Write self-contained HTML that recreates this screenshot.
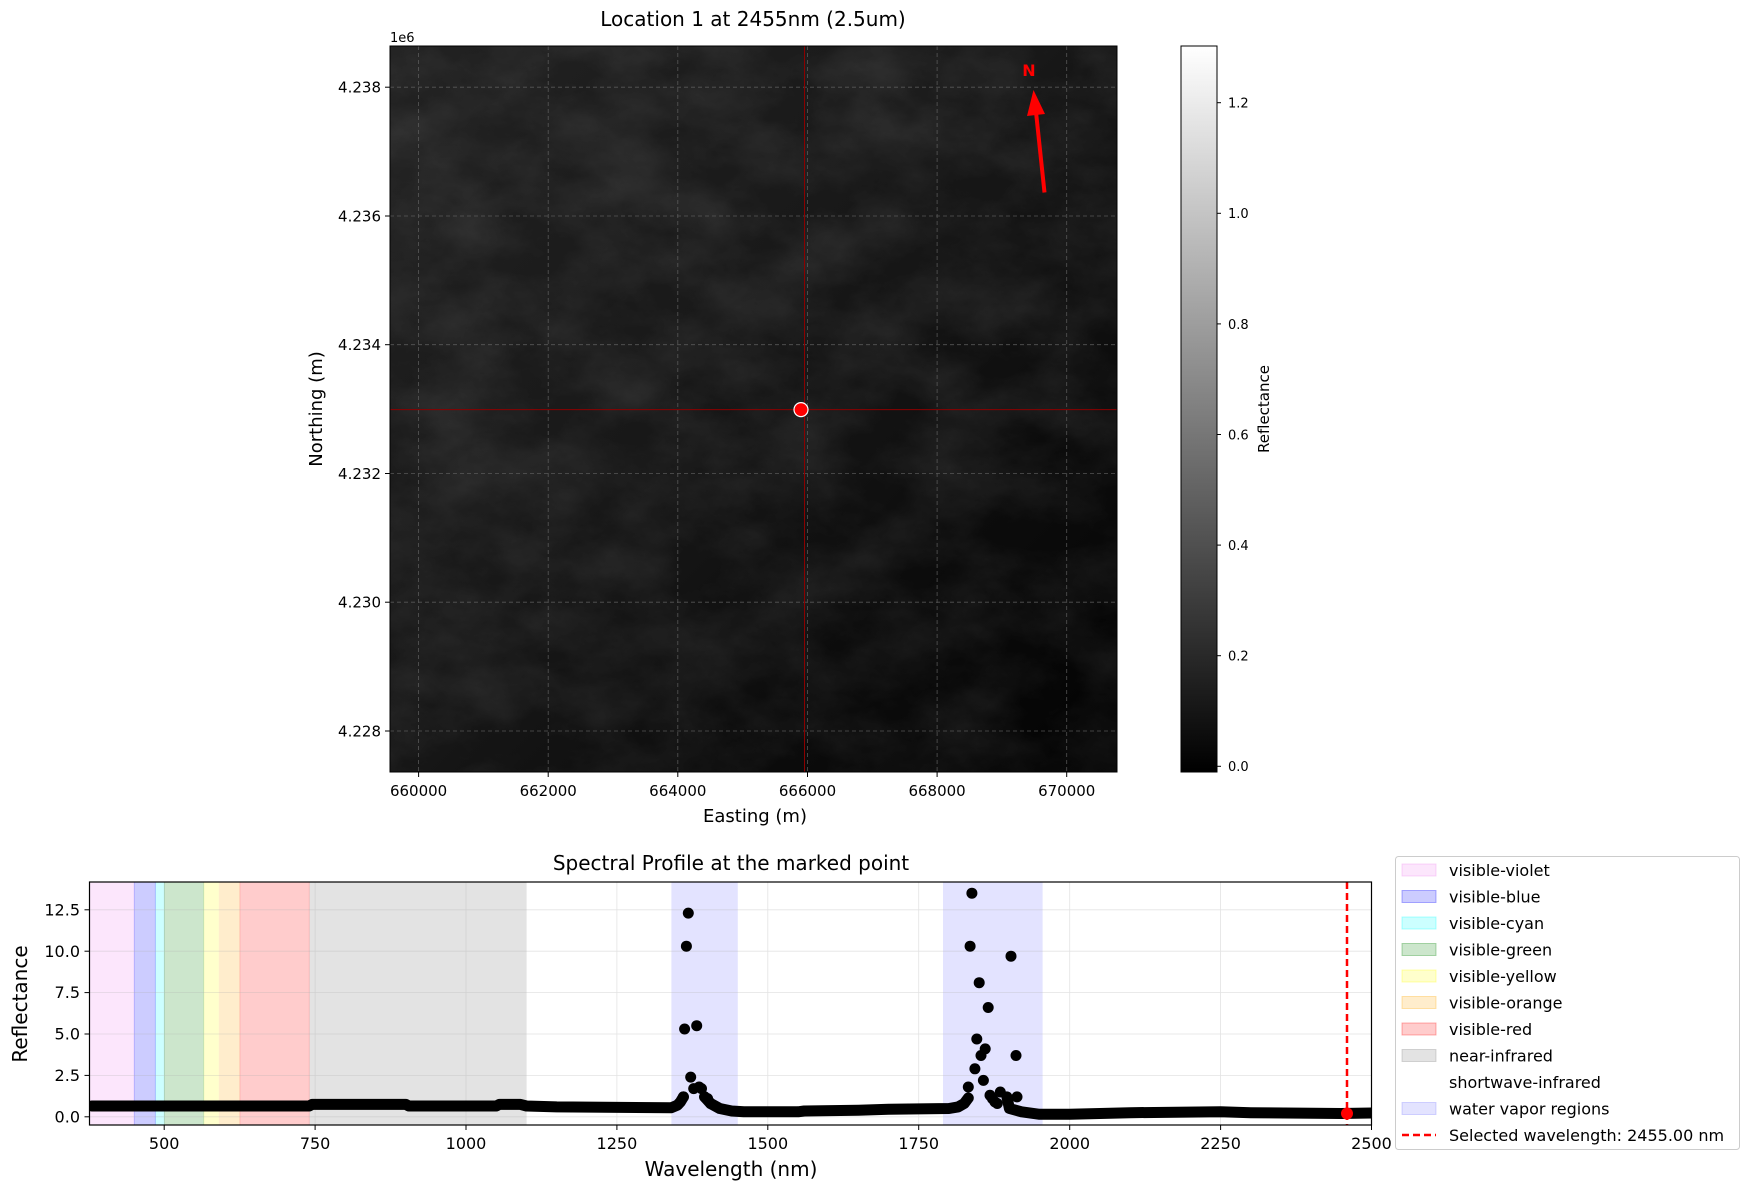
<!DOCTYPE html>
<html><head><meta charset="utf-8"><style>
html,body{margin:0;padding:0;background:#fff}
svg{display:block;font-family:"DejaVu Sans","Liberation Sans",sans-serif}
</style></head><body>
<svg width="1750" height="1189" viewBox="0 0 1750 1189" xmlns="http://www.w3.org/2000/svg">
<defs>
<linearGradient id="bg" x1="0" y1="0" x2="1" y2="1">
<stop offset="0" stop-color="#252525"/><stop offset="0.45" stop-color="#1b1b1b"/><stop offset="0.75" stop-color="#0d0d0d"/><stop offset="1" stop-color="#030303"/>
</linearGradient>
<linearGradient id="cb" x1="0" y1="1" x2="0" y2="0">
<stop offset="0" stop-color="#000"/><stop offset="1" stop-color="#fff"/>
</linearGradient>
<filter id="turb" x="0" y="0" width="100%" height="100%" color-interpolation-filters="sRGB">
<feTurbulence type="fractalNoise" baseFrequency="0.012 0.018" numOctaves="6" seed="7"/>
<feColorMatrix type="matrix" values="1.6 0 0 0 -0.5  1.6 0 0 0 -0.5  1.6 0 0 0 -0.5  0 0 0 0 1"/>
</filter>
<clipPath id="ax1"><rect x="390" y="46" width="727" height="726"/></clipPath>
<clipPath id="ax2"><rect x="89.5" y="882" width="1282" height="243"/></clipPath>
</defs>

<!-- ===== top image ===== -->
<text x="753" y="26" font-size="20" text-anchor="middle">Location 1 at 2455nm (2.5um)</text>
<g clip-path="url(#ax1)">
<rect x="390" y="46" width="727" height="726" fill="url(#bg)"/>
<rect x="390" y="46" width="727" height="726" filter="url(#turb)" opacity="0.08"/>
<g stroke="#666" stroke-width="0.8" stroke-dasharray="4,3" opacity="0.8">
<line x1="418.6" y1="46" x2="418.6" y2="772"/><line x1="548.2" y1="46" x2="548.2" y2="772"/>
<line x1="677.8" y1="46" x2="677.8" y2="772"/><line x1="807.5" y1="46" x2="807.5" y2="772"/>
<line x1="937.1" y1="46" x2="937.1" y2="772"/><line x1="1066.7" y1="46" x2="1066.7" y2="772"/>
<line x1="390" y1="87.2" x2="1117" y2="87.2"/><line x1="390" y1="216" x2="1117" y2="216"/>
<line x1="390" y1="344.7" x2="1117" y2="344.7"/><line x1="390" y1="473.5" x2="1117" y2="473.5"/>
<line x1="390" y1="602.2" x2="1117" y2="602.2"/><line x1="390" y1="731" x2="1117" y2="731"/>
</g>
<line x1="804.5" y1="46" x2="804.5" y2="772" stroke="#8b0000" stroke-width="1"/>
<line x1="390" y1="409.6" x2="1117" y2="409.6" stroke="#8b0000" stroke-width="1"/>
<circle cx="801" cy="409.6" r="7" fill="#f00" stroke="#fff" stroke-width="1.2"/>
<line x1="1044.5" y1="192.5" x2="1036" y2="112" stroke="#f00" stroke-width="4"/>
<polygon points="1033.5,90 1027,116 1045,114" fill="#f00"/>
<text x="1029" y="76" font-size="16" font-weight="bold" fill="#f00" text-anchor="middle">N</text>
</g>
<rect x="390" y="46" width="727" height="726" fill="none" stroke="#000" stroke-width="1"/>
<text x="390" y="42" font-size="13">1e6</text>
<g stroke="#000" stroke-width="1">
<line x1="418.6" y1="772" x2="418.6" y2="777"/><line x1="548.2" y1="772" x2="548.2" y2="777"/>
<line x1="677.8" y1="772" x2="677.8" y2="777"/><line x1="807.5" y1="772" x2="807.5" y2="777"/>
<line x1="937.1" y1="772" x2="937.1" y2="777"/><line x1="1066.7" y1="772" x2="1066.7" y2="777"/>
<line x1="385" y1="87.2" x2="390" y2="87.2"/><line x1="385" y1="216" x2="390" y2="216"/>
<line x1="385" y1="344.7" x2="390" y2="344.7"/><line x1="385" y1="473.5" x2="390" y2="473.5"/>
<line x1="385" y1="602.2" x2="390" y2="602.2"/><line x1="385" y1="731" x2="390" y2="731"/>
</g>
<g font-size="15" text-anchor="middle">
<text x="418.6" y="796">660000</text><text x="548.2" y="796">662000</text><text x="677.8" y="796">664000</text>
<text x="807.5" y="796">666000</text><text x="937.1" y="796">668000</text><text x="1066.7" y="796">670000</text>
</g>
<g font-size="15" text-anchor="end">
<text x="381" y="92.5">4.238</text><text x="381" y="221.3">4.236</text><text x="381" y="350">4.234</text>
<text x="381" y="478.8">4.232</text><text x="381" y="607.5">4.230</text><text x="381" y="736.3">4.228</text>
</g>
<text x="755" y="822" font-size="18" text-anchor="middle">Easting (m)</text>
<text transform="translate(322,409) rotate(-90)" font-size="18" text-anchor="middle">Northing (m)</text>

<!-- colorbar -->
<rect x="1181" y="46" width="36" height="726" fill="url(#cb)" stroke="#000" stroke-width="1"/>
<g stroke="#000" stroke-width="1">
<line x1="1217" y1="766.3" x2="1221" y2="766.3"/><line x1="1217" y1="655.7" x2="1221" y2="655.7"/>
<line x1="1217" y1="545.1" x2="1221" y2="545.1"/><line x1="1217" y1="434.5" x2="1221" y2="434.5"/>
<line x1="1217" y1="323.9" x2="1221" y2="323.9"/><line x1="1217" y1="213.3" x2="1221" y2="213.3"/>
<line x1="1217" y1="102.7" x2="1221" y2="102.7"/>
</g>
<g font-size="13">
<text x="1228" y="771">0.0</text><text x="1228" y="660.5">0.2</text><text x="1228" y="550">0.4</text>
<text x="1228" y="439.5">0.6</text><text x="1228" y="329">0.8</text><text x="1228" y="218">1.0</text><text x="1228" y="107.5">1.2</text>
</g>
<text transform="translate(1269,409) rotate(-90)" font-size="15" text-anchor="middle">Reflectance</text>

<!-- ===== bottom spectral plot ===== -->
<text x="731" y="870" font-size="20" text-anchor="middle">Spectral Profile at the marked point</text>
<g clip-path="url(#ax2)">
<rect x="89.5" y="882" width="44.8" height="243" fill="#ee82ee" fill-opacity="0.2"/>
<rect x="134.3" y="882" width="21.1" height="243" fill="#0000ff" fill-opacity="0.2" stroke="#0000ff" stroke-opacity="0.2"/>
<rect x="155.4" y="882" width="9.1" height="243" fill="#00ffff" fill-opacity="0.2"/>
<rect x="164.5" y="882" width="39.2" height="243" fill="#008000" fill-opacity="0.2" stroke="#008000" stroke-opacity="0.15"/>
<rect x="203.7" y="882" width="15.1" height="243" fill="#ffff00" fill-opacity="0.2"/>
<rect x="218.8" y="882" width="21.1" height="243" fill="#ffa500" fill-opacity="0.2"/>
<rect x="239.9" y="882" width="69.4" height="243" fill="#ff0000" fill-opacity="0.2" stroke="#ff0000" stroke-opacity="0.15"/>
<rect x="309.3" y="882" width="217.3" height="243" fill="#808080" fill-opacity="0.22"/>
<rect x="671.4" y="882" width="66.4" height="243" fill="#0000ff" fill-opacity="0.11"/>
<rect x="943" y="882" width="99.6" height="243" fill="#0000ff" fill-opacity="0.11"/>
<g stroke="#b0b0b0" stroke-width="0.8" opacity="0.35">
<line x1="164.2" y1="882" x2="164.2" y2="1125"/><line x1="315.1" y1="882" x2="315.1" y2="1125"/>
<line x1="466" y1="882" x2="466" y2="1125"/><line x1="616.9" y1="882" x2="616.9" y2="1125"/>
<line x1="767.8" y1="882" x2="767.8" y2="1125"/><line x1="918.7" y1="882" x2="918.7" y2="1125"/>
<line x1="1069.7" y1="882" x2="1069.7" y2="1125"/><line x1="1220.6" y1="882" x2="1220.6" y2="1125"/>
<line x1="89.5" y1="1116.8" x2="1372" y2="1116.8"/><line x1="89.5" y1="1075.4" x2="1372" y2="1075.4"/>
<line x1="89.5" y1="1034" x2="1372" y2="1034"/><line x1="89.5" y1="992.6" x2="1372" y2="992.6"/>
<line x1="89.5" y1="951.2" x2="1372" y2="951.2"/><line x1="89.5" y1="909.8" x2="1372" y2="909.8"/>
</g>
<polyline fill="none" stroke="#000" stroke-width="11" stroke-linejoin="round" stroke-linecap="round"
points="91.9,1106 309.2,1106 312.2,1104.4 405.8,1104.4 408.8,1106 496.3,1106 499.4,1104.4 520.5,1104.4 526.5,1106 556.7,1106.9 671.4,1107.7 677.4,1105.2 680.4,1101.9 683.4,1096.9"/>
<polyline fill="none" stroke="#000" stroke-width="11" stroke-linejoin="round" stroke-linecap="round"
points="704.6,1096.9 710.6,1103.5 719.7,1108.5 731.7,1111 743.8,1111.8 798.1,1111.8 804.2,1111 858.5,1110.2 888.7,1109.3 949,1108.5 958.1,1106.9 964.2,1103.5 968.3,1098"/>
<polyline fill="none" stroke="#000" stroke-width="11" stroke-linejoin="round" stroke-linecap="round"
points="1006.9,1096.9 1009.4,1108.5 1021.5,1111.8 1039.6,1114.3 1069.7,1114.3 1099.9,1113.5 1130.1,1112.7 1220.6,1111.8 1250.8,1112.7 1341.3,1113.5 1371.5,1113"/>
<g fill="#000">
<circle cx="683.4" cy="1096.9" r="5.5"/><circle cx="684.6" cy="1029" r="5.5"/><circle cx="686.4" cy="946.2" r="5.5"/>
<circle cx="688.3" cy="913.1" r="5.5"/><circle cx="690.7" cy="1077.1" r="5.5"/><circle cx="693.7" cy="1088.6" r="5.5"/>
<circle cx="696.7" cy="1025.7" r="5.5"/><circle cx="699.1" cy="1087" r="5.5"/><circle cx="701.5" cy="1088.6" r="5.5"/>
<circle cx="704.6" cy="1096.9" r="5.5"/><circle cx="707.6" cy="1098.6" r="5.5"/><circle cx="710.6" cy="1103.5" r="5.5"/>
<circle cx="968.3" cy="1087" r="5.5"/><circle cx="970.1" cy="946.2" r="5.5"/><circle cx="971.9" cy="893.2" r="5.5"/>
<circle cx="974.9" cy="1068.8" r="5.5"/><circle cx="976.8" cy="1039" r="5.5"/><circle cx="979.2" cy="982.7" r="5.5"/>
<circle cx="981" cy="1055.5" r="5.5"/><circle cx="983.4" cy="1080.4" r="5.5"/><circle cx="985.2" cy="1048.9" r="5.5"/>
<circle cx="988.2" cy="1007.5" r="5.5"/><circle cx="990" cy="1095.3" r="5.5"/><circle cx="992.4" cy="1098.6" r="5.5"/>
<circle cx="994.9" cy="1101.9" r="5.5"/><circle cx="997.3" cy="1103.5" r="5.5"/><circle cx="1000.3" cy="1092" r="5.5"/>
<circle cx="1011" cy="956.2" r="5.5"/><circle cx="1016" cy="1055.5" r="5.5"/><circle cx="1017" cy="1096.9" r="5.5"/>
</g>
<line x1="1347" y1="882" x2="1347" y2="1125" stroke="#f00" stroke-width="2.5" stroke-dasharray="7,4"/>
<circle cx="1347" cy="1113.5" r="6" fill="#f00"/>
</g>
<rect x="89.5" y="882" width="1282" height="243" fill="none" stroke="#000" stroke-width="1.2"/>
<g stroke="#000" stroke-width="1">
<line x1="164.2" y1="1125" x2="164.2" y2="1130"/><line x1="315.1" y1="1125" x2="315.1" y2="1130"/>
<line x1="466" y1="1125" x2="466" y2="1130"/><line x1="616.9" y1="1125" x2="616.9" y2="1130"/>
<line x1="767.8" y1="1125" x2="767.8" y2="1130"/><line x1="918.7" y1="1125" x2="918.7" y2="1130"/>
<line x1="1069.7" y1="1125" x2="1069.7" y2="1130"/><line x1="1220.6" y1="1125" x2="1220.6" y2="1130"/>
<line x1="1371.5" y1="1125" x2="1371.5" y2="1130"/>
<line x1="84.5" y1="1116.8" x2="89.5" y2="1116.8"/><line x1="84.5" y1="1075.4" x2="89.5" y2="1075.4"/>
<line x1="84.5" y1="1034" x2="89.5" y2="1034"/><line x1="84.5" y1="992.6" x2="89.5" y2="992.6"/>
<line x1="84.5" y1="951.2" x2="89.5" y2="951.2"/><line x1="84.5" y1="909.8" x2="89.5" y2="909.8"/>
</g>
<g font-size="16" text-anchor="middle">
<text x="164.2" y="1149">500</text><text x="315.1" y="1149">750</text><text x="466" y="1149">1000</text>
<text x="616.9" y="1149">1250</text><text x="767.8" y="1149">1500</text><text x="918.7" y="1149">1750</text>
<text x="1069.7" y="1149">2000</text><text x="1220.6" y="1149">2250</text><text x="1371.5" y="1149">2500</text>
</g>
<g font-size="16" text-anchor="end">
<text x="80" y="1122.5">0.0</text><text x="80" y="1081">2.5</text><text x="80" y="1039.6">5.0</text>
<text x="80" y="998.2">7.5</text><text x="80" y="956.8">10.0</text><text x="80" y="915.4">12.5</text>
</g>
<text x="731" y="1176" font-size="20" text-anchor="middle">Wavelength (nm)</text>
<text transform="translate(27,1004) rotate(-90)" font-size="20" text-anchor="middle">Reflectance</text>

<!-- legend -->
<rect x="1395.5" y="856.5" width="344" height="293" rx="3" fill="#fff" stroke="#ccc" stroke-width="1"/>
<g font-size="16">
<rect x="1402" y="864" width="34" height="12" fill="#ee82ee" fill-opacity="0.2" stroke="#ee82ee" stroke-opacity="0.3"/><text x="1449" y="876">visible-violet</text>
<rect x="1402" y="890.5" width="34" height="12" fill="#0000ff" fill-opacity="0.2" stroke="#0000ff" stroke-opacity="0.3"/><text x="1449" y="902.5">visible-blue</text>
<rect x="1402" y="917" width="34" height="12" fill="#00ffff" fill-opacity="0.2" stroke="#00ffff" stroke-opacity="0.3"/><text x="1449" y="929">visible-cyan</text>
<rect x="1402" y="943.5" width="34" height="12" fill="#008000" fill-opacity="0.2" stroke="#008000" stroke-opacity="0.3"/><text x="1449" y="955.5">visible-green</text>
<rect x="1402" y="970" width="34" height="12" fill="#ffff00" fill-opacity="0.2" stroke="#ffff00" stroke-opacity="0.3"/><text x="1449" y="982">visible-yellow</text>
<rect x="1402" y="996.5" width="34" height="12" fill="#ffa500" fill-opacity="0.2" stroke="#ffa500" stroke-opacity="0.3"/><text x="1449" y="1008.5">visible-orange</text>
<rect x="1402" y="1023" width="34" height="12" fill="#ff0000" fill-opacity="0.2" stroke="#ff0000" stroke-opacity="0.3"/><text x="1449" y="1035">visible-red</text>
<rect x="1402" y="1049.5" width="34" height="12" fill="#808080" fill-opacity="0.22" stroke="#808080" stroke-opacity="0.3"/><text x="1449" y="1061.5">near-infrared</text>
<text x="1449" y="1088">shortwave-infrared</text>
<rect x="1402" y="1102.5" width="34" height="12" fill="#0000ff" fill-opacity="0.11" stroke="#0000ff" stroke-opacity="0.15"/><text x="1449" y="1114.5">water vapor regions</text>
<line x1="1402" y1="1135" x2="1436" y2="1135" stroke="#f00" stroke-width="2.5" stroke-dasharray="7,4"/><text x="1449" y="1141">Selected wavelength: 2455.00 nm</text>
</g>
</svg>
</body></html>
